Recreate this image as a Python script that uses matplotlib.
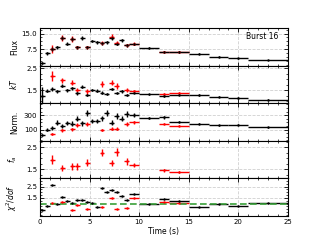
import matplotlib
matplotlib.use("Agg")
import matplotlib.pyplot as plt
from matplotlib.ticker import AutoMinorLocator, FormatStrFormatter
import numpy as np

# ---- data ----
t_black = [0.25, 0.75, 1.25, 1.75, 2.25, 2.75, 3.25, 3.75, 4.25, 4.75, 5.25, 5.75,
           6.25, 6.75, 7.25, 7.75, 8.25, 8.75, 9.5, 11, 12.5, 14, 16, 18, 20, 23]
dt_black = [0.25] * 18 + [0.5, 1, 0.5, 1, 1, 1, 1, 2]

t_red = [1.25, 2.25, 3.25, 3.75, 4.75, 6.25, 7.25, 7.75, 8.75, 9.5, 12.5, 14]
dt_red = [0.25] * 9 + [0.5, 0.5, 1]

flux_black = [0.8, 5.5, 7.5, 8.3, 12.9, 10.1, 12.4, 8.3, 13.0, 8.3, 11.4, 10.9, 10.3,
              10.9, 12.9, 10.1, 11.7, 9.3, 10.1, 8.0, 6.3, 6.2, 5.25, 3.95, 3.1, 2.3]
flux_black_err = [0.6, 0.8, 0.9, 0.8, 1.0, 0.8, 1.0, 0.8, 1.0, 0.8, 0.7, 0.7, 0.8, 0.7,
                  0.9, 0.8, 0.7, 0.7, 0.5, 0.3, 0.3, 0.25, 0.2, 0.2, 0.15, 0.12]
flux_red = [7.6, 13.0, 12.5, 8.3, 8.3, 10.3, 13.5, 10.3, 9.3, 10.1, 6.3, 6.2]
flux_red_err = [1.8, 1.5, 1.4, 0.9, 0.9, 1.0, 1.2, 0.9, 0.8, 0.6, 0.3, 0.25]

kt_black = [1.25, 1.49, 1.56, 1.45, 1.71, 1.5, 1.6, 1.36, 1.66, 1.29, 1.52, 1.49, 1.4,
            1.34, 1.56, 1.37, 1.45, 1.3, 1.4, 1.32, 1.24, 1.3, 1.29, 1.22, 1.16, 1.08]
kt_black_err = [0.4, 0.08, 0.07, 0.06, 0.08, 0.06, 0.07, 0.06, 0.07, 0.06, 0.05, 0.05,
                0.05, 0.05, 0.06, 0.05, 0.05, 0.05, 0.04, 0.03, 0.04, 0.03, 0.03, 0.03,
                0.03, 0.03]
kt_red = [2.13, 1.95, 1.84, 1.52, 1.45, 1.79, 1.85, 1.69, 1.51, 1.45, 1.34, 1.39]
kt_red_err = [0.23, 0.12, 0.12, 0.1, 0.1, 0.12, 0.12, 0.12, 0.1, 0.07, 0.05, 0.04]

norm_black = [25, 100, 127, 197, 148, 193, 184, 251, 188, 331, 220, 220, 260, 327, 197,
              287, 251, 317, 300, 260, 268, 211, 184, 161, 167, 131]
norm_black_err = [20, 25, 28, 30, 30, 30, 32, 35, 32, 42, 30, 30, 35, 42, 32, 38, 35, 40,
                  30, 12, 15, 10, 8, 7, 6, 5]
norm_red = [37, 91, 104, 167, 175, 95, 113, 113, 175, 201, 184, 153]
norm_red_err = [15, 18, 20, 25, 25, 18, 20, 20, 25, 18, 12, 8]

fa = [1.93, 1.56, 1.63, 1.63, 1.79, 2.26, 1.79, 2.27, 1.87, 1.68, 1.44, 1.36]
fa_err = [0.2, 0.15, 0.15, 0.15, 0.17, 0.18, 0.15, 0.18, 0.16, 0.1, 0.07, 0.05]

chi_black = [0.39, 0.82, 2.63, 0.93, 1.58, 1.22, 1.01, 1.28, 1.36, 1.12, 1.04, 0.69,
             2.36, 1.99, 2.17, 2.01, 1.63, 1.34, 1.88, 0.96, 1.42, 1.26, 0.66, 0.96,
             0.79, 1.01]
chi_red = [1.04, 1.17, 0.47, 0.87, 0.52, 0.71, 1.5, 0.55, 0.63, 1.5, 1.14, 1.09]

ylabels = ["Flux", "$kT$", "Norm.", "$f_a$", r"$\chi^2/dof$"]
yticks = [[7.5, 15.0], [1.5, 2.5], [100, 300], [1.5, 2.5], [1.5, 2.5]]
ylims = [(-0.4, 17.6), (0.92, 2.61), (-55, 465), (1.07, 2.8), (-0.1, 3.23)]
yfmt = ["%.1f", "%.1f", "%d", "%.1f", "%.1f"]
xticks = [0, 5, 10, 15, 20, 25]

# ---- figure ----
fig = plt.figure(figsize=(3.2, 2.4), dpi=100)
axes = fig.subplots(5, 1, sharex=True, gridspec_kw=dict(hspace=0))
fig.subplots_adjust(left=0.125, right=0.9, top=0.883, bottom=0.1)

ekw = dict(fmt='.', ms=1.5, elinewidth=1.0, capsize=0)

panels_black = [(flux_black, flux_black_err), (kt_black, kt_black_err),
                (norm_black, norm_black_err), (None, None), (chi_black, None)]
panels_red = [(flux_red, flux_red_err), (kt_red, kt_red_err),
              (norm_red, norm_red_err), (fa, fa_err), (chi_red, None)]

for i, ax in enumerate(axes):
    rv, re = panels_red[i]
    bv, be = panels_black[i]
    ax.errorbar(t_red, rv, yerr=re, xerr=dt_red, color='red', ecolor='red', **ekw)
    if bv is not None:
        ax.errorbar(t_black, bv, yerr=be, xerr=dt_black, color='black',
                    ecolor='black', **ekw)
    ax.set_ylim(*ylims[i])
    ax.set_yticks(yticks[i])
    ax.yaxis.set_major_formatter(FormatStrFormatter(yfmt[i]))
    ax.set_ylabel(ylabels[i], fontsize=5.5, labelpad=2)
    ax.grid(True, ls='--', color='#d0d0d0', lw=0.6)
    ax.set_axisbelow(True)
    ax.tick_params(which='both', direction='in', top=True, right=True, labelsize=5,
                   pad=2)
    ax.tick_params(which='major', length=3, width=0.6)
    ax.tick_params(which='minor', length=1.5, width=0.5)
    ax.xaxis.set_minor_locator(AutoMinorLocator(5))
    ax.yaxis.set_minor_locator(AutoMinorLocator(4))
    for s in ax.spines.values():
        s.set_linewidth(0.8)

axes[4].axhline(1.0, color='#3aa03a', ls='--', lw=1.2, dashes=(4, 2))
axes[4].set_xlim(0, 25)
axes[4].set_xticks(xticks)
axes[4].set_xlabel("Time (s)", fontsize=5.5, labelpad=1.5)
axes[0].text(0.96, 0.78, "Burst 16", transform=axes[0].transAxes, ha='right',
             va='center', fontsize=5.5)
fig.align_ylabels(axes)

fig.savefig("out.png", dpi=100)
